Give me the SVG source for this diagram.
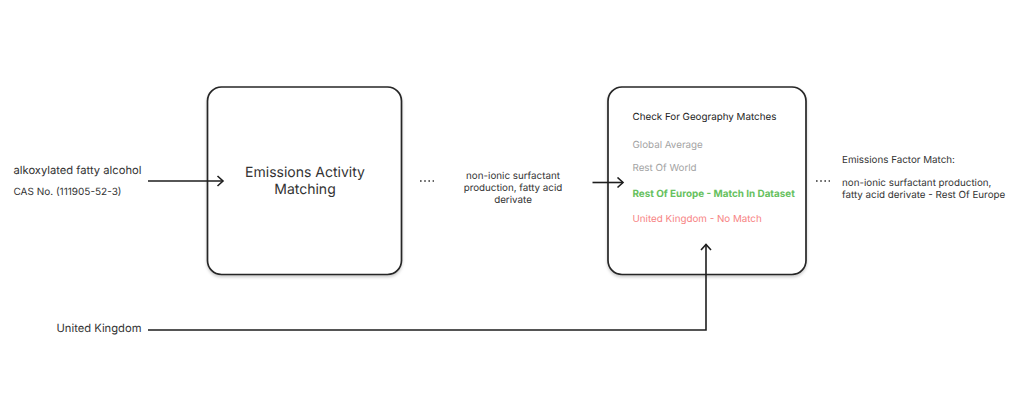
<svg xmlns="http://www.w3.org/2000/svg" width="1024" height="401" viewBox="0 0 1024 401">
<defs>
<filter id="sh" x="-5%" y="-5%" width="110%" height="110%"><feDropShadow dx="0" dy="2" stdDeviation="1.500" flood-color="#000" flood-opacity="0.2"/></filter>
<marker id="ah" viewBox="0 0 10 12" markerWidth="10" markerHeight="12" refX="8.500" refY="6" orient="auto" markerUnits="userSpaceOnUse"><path d="M3,1 L8.500,6 L3,11" fill="none" stroke="#1e1e1e" stroke-width="1.600"/></marker>
</defs>
<style>
text{font-family:Inter,"Liberation Sans",sans-serif;fill:#333;text-rendering:geometricPrecision}
.box{fill:#fff;stroke:#262626;stroke-width:1.700;filter:url(#sh)}
.c{fill:none;stroke:#1e1e1e;stroke-width:1.600;marker-end:url(#ah)}
.d{fill:none;stroke:#333;stroke-width:1.600;stroke-dasharray:1.600 2.600}
.s10{font-size:9.800px}.m{text-anchor:middle}
</style>
<rect width="1024" height="401" fill="#fff"/>
<g id="node-activity"><rect class="box" x="207.500" y="87" width="194" height="187.500" rx="14"/>
<text class="m" x="305" y="177" font-size="14">Emissions Activity</text><text class="m" x="305" y="194" font-size="14">Matching</text></g>
<g id="node-geography"><rect class="box" x="608" y="87" width="198" height="187.500" rx="14"/>
<text class="s10" x="632.500" y="119.500" style="fill:#222">Check For Geography Matches</text>
<text class="s10" x="632.500" y="147.500" style="fill:#a3a3a3">Global Average</text>
<text class="s10" x="632.500" y="171" style="fill:#a3a3a3">Rest Of World</text>
<text x="632.500" y="197" font-size="9.900" font-weight="700" style="fill:#66c15e">Rest Of Europe - Match In Dataset</text>
<text class="s10" x="632.500" y="221.500" style="fill:#f78383">United Kingdom - No Match</text></g>
<g id="node-input"><text x="13.500" y="174" font-size="11.200">alkoxylated fatty alcohol</text><text x="13.500" y="194.500" font-size="10">CAS No. (111905-52-3)</text></g>
<g id="node-uk"><text x="56.500" y="332" font-size="11.200">United Kingdom</text></g>
<g id="node-activity-output"><text class="m s10" x="513" y="179">non-ionic surfactant</text><text class="m s10" x="513" y="191">production, fatty acid</text><text class="m s10" x="513" y="203">derivate</text></g>
<g id="node-result"><text class="s10" x="842" y="163">Emissions Factor Match:</text><text class="s10" x="842" y="186">non-ionic surfactant production,</text><text class="s10" x="842" y="198">fatty acid derivate - Rest Of Europe</text></g>
<g id="connectors">
<path class="c" d="M148,181 H223"/>
<path class="c" d="M592.500,182.500 H623"/>
<path class="c" d="M148,330 H706 V244.500"/>
<path class="d" d="M420,181 H434"/>
<path class="d" d="M816,181 H830"/>
</g>
</svg>
